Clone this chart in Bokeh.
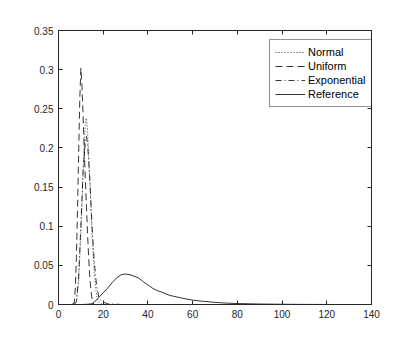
from bokeh.plotting import figure
from bokeh.models import Range1d, LinearAxis, FixedTicker, Legend, LegendItem
from bokeh.embed import file_html
from bokeh.resources import INLINE

# ---- data ----
normal_x = [7, 8, 9, 10, 11, 12, 12.5, 13, 14, 15, 16, 17, 18, 19, 20]
normal_y = [0, 0.003, 0.03, 0.09, 0.17, 0.233, 0.238, 0.222, 0.16, 0.09, 0.04, 0.012, 0.003, 0.001, 0]

uniform_x = [6, 7, 7.5, 8, 8.5, 9, 9.5, 10, 10.5, 11, 11.5, 12, 12.5, 13, 13.5, 14, 14.5, 15, 15.5, 16, 17]
uniform_y = [0, 0.002, 0.02, 0.06, 0.12, 0.19, 0.26, 0.302, 0.28, 0.24, 0.2, 0.16, 0.125, 0.09, 0.06, 0.035, 0.018, 0.007, 0.002, 0, 0]

expo_x = [7, 8, 9, 10, 11, 12, 12.5, 13, 14, 15, 16, 17, 18, 19, 20, 22, 25, 28]
expo_y = [0, 0.004, 0.035, 0.10, 0.17, 0.208, 0.215, 0.205, 0.16, 0.10, 0.055, 0.025, 0.01, 0.005, 0.003, 0.001, 0.0005, 0]

ref_x = [7, 10, 13, 15, 16, 18, 20, 22, 24, 26, 28, 30, 32, 34, 36, 38, 40, 42, 44, 46, 48, 50,
         55, 60, 65, 70, 75, 80, 90, 100, 110, 120, 125]
ref_y = [0, 0, 0.0003, 0.001, 0.003, 0.009, 0.015, 0.021, 0.028, 0.034, 0.038, 0.039, 0.038, 0.036,
         0.0335, 0.029, 0.025, 0.021, 0.018, 0.016, 0.0135, 0.0115, 0.0083, 0.0055, 0.004, 0.0027,
         0.0018, 0.0012, 0.0006, 0.0003, 0.0001, 0.00005, 0]

x_ticks = [0, 20, 40, 60, 80, 100, 120, 140]
x_tick_labels = ["0", "20", "40", "60", "80", "100", "120", "140"]
y_ticks = [0, 0.05, 0.1, 0.15, 0.2, 0.25, 0.3, 0.35]
y_tick_labels = ["0", "0.05", "0.1", "0.15", "0.2", "0.25", "0.3", "0.35"]

AX = "#262626"
FONT = "Liberation Sans"

W, H = 407, 338
p = figure(width=W, height=H, output_backend="svg", toolbar_location=None,
           x_range=Range1d(0, 140), y_range=Range1d(0, 0.35),
           min_border_left=58, min_border_right=W - 371, min_border_top=30,
           min_border_bottom=H - 304, x_axis_location=None, y_axis_location=None)
p.grid.visible = False
p.outline_line_color = AX
p.outline_line_width = 1
p.background_fill_color = "white"
p.border_fill_color = "white"


def style(ax, ticks, labels, show_labels):
    ax.ticker = FixedTicker(ticks=ticks)
    ax.major_label_overrides = {t: l for t, l in zip(ticks, labels)}
    ax.major_tick_in = 4
    ax.major_tick_out = 0
    ax.minor_tick_in = 0
    ax.minor_tick_out = 0
    ax.axis_line_color = AX
    ax.major_tick_line_color = AX
    ax.major_label_text_font = FONT
    ax.major_label_text_font_size = "10px"
    ax.major_label_text_color = AX
    ax.major_label_standoff = 5
    if not show_labels:
        ax.major_label_text_alpha = 0


xb = LinearAxis()
style(xb, x_ticks, x_tick_labels, True)
p.add_layout(xb, "below")
yl = LinearAxis()
style(yl, y_ticks, y_tick_labels, True)
p.add_layout(yl, "left")
xt = LinearAxis()
style(xt, x_ticks, x_tick_labels, False)
xt.major_label_text_font_size = "0px"
xt.major_label_standoff = 0
p.add_layout(xt, "above")
yr = LinearAxis()
style(yr, y_ticks, y_tick_labels, False)
yr.major_label_text_font_size = "0px"
yr.major_label_standoff = 0
p.add_layout(yr, "right")

lw = 0.8
r1 = p.line(normal_x, normal_y, line_color="black", line_width=lw, line_dash="1 2")
r2 = p.line(uniform_x, uniform_y, line_color="black", line_width=lw, line_dash="7 4")
r3 = p.line(expo_x, expo_y, line_color="black", line_width=lw, line_dash="6 3 1 3")
r4 = p.line(ref_x, ref_y, line_color="black", line_width=lw)

legend = Legend(items=[LegendItem(label="Normal", renderers=[r1]),
                       LegendItem(label="Uniform", renderers=[r2]),
                       LegendItem(label="Exponential", renderers=[r3]),
                       LegendItem(label="Reference", renderers=[r4])],
                location=(211, 197))
legend.label_text_font = FONT
legend.label_text_font_size = "11px"
legend.label_text_color = "black"
legend.glyph_width = 30
legend.glyph_height = 14
legend.label_height = 14
legend.label_standoff = 3
legend.spacing = 0
legend.padding = 5
legend.margin = 0
legend.border_line_color = AX
legend.border_line_width = 1
legend.background_fill_alpha = 1
p.add_layout(legend, "center")

open("out.html", "w").write(file_html(p, INLINE))
